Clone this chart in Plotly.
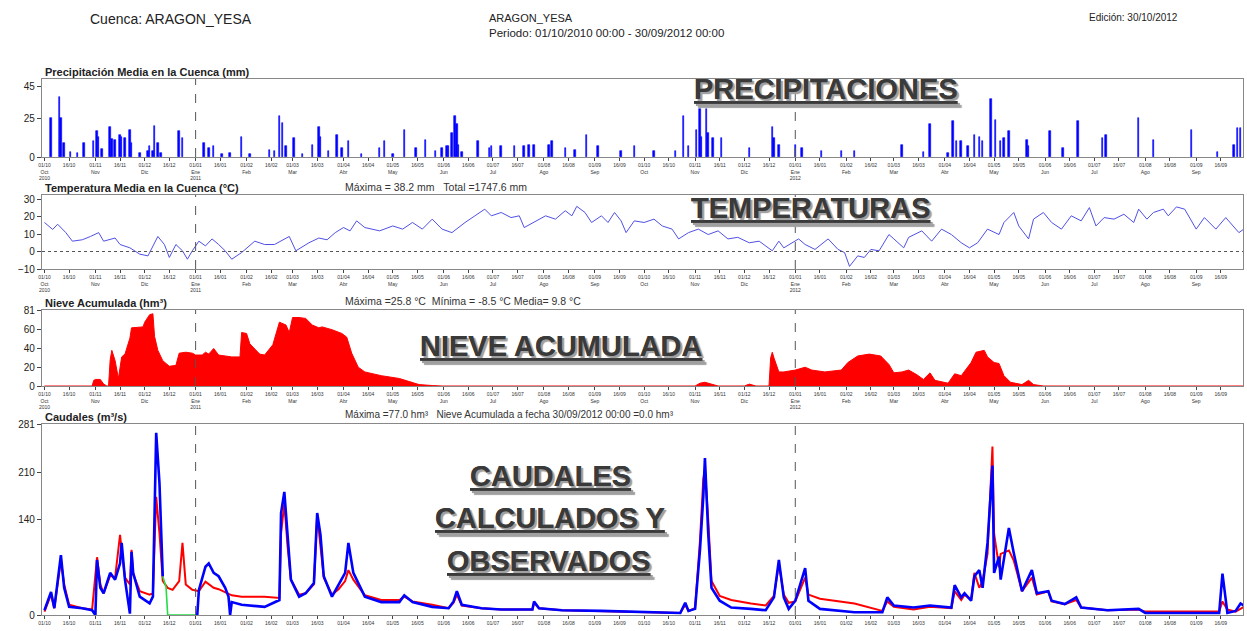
import pandas as pd
import plotly.graph_objects as go

# ---------------- DATA (days since 01/10/2010) ----------------
START = "2010-10-01"

prec_day = [4, 9, 10, 12, 16, 20, 24, 30, 32, 33, 35, 40, 41, 43, 46, 47, 49, 52, 53, 58,
            63, 64, 66, 67, 69, 71, 82, 84, 97, 100, 103, 108, 113, 120, 125, 137, 140, 143, 145, 147,
            152, 157, 163, 167, 168, 173, 178, 181, 185, 193, 204, 207, 212, 219, 226, 232, 238, 242, 245, 246,
            248, 250, 251, 252, 254, 264, 271, 272, 278, 286, 292, 295, 298, 307, 309, 317, 323, 330, 337, 351,
            359, 371, 384, 389, 392, 397, 399, 400, 403, 404, 407, 412, 429, 443, 444, 447, 457, 461, 473, 485,
            493, 522, 535, 539, 550, 553, 555, 558, 562, 566, 569, 571, 576, 579, 582, 584, 587, 598, 599, 612,
            620, 629, 644, 646, 666, 675, 698, 714, 724, 726, 728]
prec_mm = [25, 38.2, 25, 9, 3, 2.5, 9, 10, 16.5, 13, 5, 19, 11.5, 11, 14, 13, 12, 17.5, 9, 2.6,
           3.6, 7, 4, 20, 9, 2.6, 16.5, 12, 9, 5.8, 7.3, 2, 2.5, 13, 2, 4.7, 3.6, 26.5, 21.8, 6.8,
           12, 2, 7.9, 19, 13, 3.6, 14, 5.8, 10, 2, 5.8, 10, 2, 17.5, 5.8, 11, 3.6, 5.8, 6.8, 6.8,
           15.5, 26, 21, 8, 3, 10, 5.8, 6.8, 6.8, 6.8, 6.8, 7.9, 7.9, 7.9, 10, 5.8, 4.7, 14, 6.8, 3.6,
           6.8, 3.6, 3.6, 26, 6.8, 17.5, 30.6, 13, 30.6, 15.5, 12, 12, 5.8, 19, 12, 7.9, 7.9, 5.8, 3.6, 3.6,
           3.6, 7.9, 3, 21, 2.6, 23, 10, 10, 6.8, 14, 13, 10, 37, 24, 10, 12, 16.5, 11, 6.8, 16.5,
           5.8, 23, 12, 14, 25, 11, 17.5, 3, 7.9, 18.5, 18.5]

temp_day = [0, 5, 8, 13, 17, 23, 28, 33, 36, 43, 46, 52, 58, 63, 69, 73, 76, 80, 84, 87,
            90, 94, 98, 102, 106, 110, 114, 120, 128, 134, 140, 149, 153, 161, 167, 172, 177, 182, 186, 190,
            195, 204, 212, 218, 224, 230, 236, 242, 248, 256, 262, 268, 272, 278, 284, 289, 292, 298, 305, 311,
            317, 321, 324, 329, 333, 339, 343, 347, 351, 354, 359, 365, 371, 376, 382, 386, 392, 398, 404, 410,
            416, 422, 429, 435, 443, 447, 450, 459, 463, 469, 477, 483, 487, 490, 495, 499, 503, 508, 514, 517,
            523, 526, 534, 540, 546, 552, 558, 563, 568, 574, 581, 584, 590, 593, 599, 602, 608, 613, 619, 625,
            631, 636, 640, 645, 651, 657, 663, 666, 671, 675, 681, 684, 689, 694, 701, 706, 713, 719, 727, 730]
temp_c = [16.6, 12.6, 15.6, 10.8, 5.9, 6.7, 8.6, 10.8, 5.9, 7.7, 4, 2.1, -1.5, -2.5, 8.6, 4, -3.4, 4, 0.4, -4.4,
          0.4, 5.9, 3.2, 7.2, 4, 0.4, -4.4, -0.6, 5.9, 4, 4, 8.6, 0.4, 5, 7.7, 6.7, 10.8, 13.7, 11.8, 17.5,
          13.7, 11.8, 14.6, 12.8, 16.6, 12.8, 18.5, 12.8, 10.8, 16.6, 20.4, 24.2, 20.4, 22.3, 19.4, 20.4, 13.7, 16.6, 20.4, 18.5,
          23.3, 20.4, 25.8, 22.3, 16.6, 20.4, 16.6, 22.3, 17.5, 10.8, 17.5, 16.6, 18.5, 14.6, 12.8, 7.2, 10.8, 12.8, 9.7, 11.8,
          7.2, 8.1, 5, 5.9, 0.4, 5.9, 2.1, 7.2, 4, 1.2, 7.2, 1.2, -0.6, -8.5, -2.5, -3.4, 1.2, 0.4, 9.7, 7.2,
          2.1, 8.1, 11.8, 5.9, 12.8, 9.7, 5, 2.1, 5, 12.8, 9.7, 16.6, 22.3, 14.6, 7.2, 18.5, 22.3, 16.6, 12.8, 20.4,
          17.5, 25.1, 14.6, 19.4, 18.5, 21.3, 16.6, 24.2, 18.5, 22.3, 24.2, 20.4, 25.5, 24.2, 12.8, 19.4, 12.8, 19.4, 10.8, 12.8]

snow_day = [0, 29, 30, 31, 34, 36, 38, 39, 40, 41, 43, 45, 47, 49, 52, 53, 60, 61, 64, 66,
            67, 69, 72, 76, 80, 82, 86, 90, 92, 96, 98, 100, 103, 106, 114, 119, 120, 123, 125, 131,
            134, 139, 143, 147, 149, 151, 155, 159, 163, 167, 169, 175, 181, 184, 187, 191, 195, 205, 216, 222,
            228, 236, 242, 396, 399, 402, 406, 410, 426, 429, 433, 441, 442, 443, 444, 447, 450, 457, 463, 467,
            475, 485, 489, 495, 502, 509, 514, 517, 522, 526, 531, 535, 539, 542, 550, 554, 558, 564, 567, 572,
            574, 578, 581, 584, 588, 595, 599, 602, 608, 730]
snow_hm3 = [0, 0, 6, 7, 7, 2, 0, 0, 28, 38, 27, 8, 31, 34, 51, 62, 63, 68, 76, 77,
            53, 38, 27, 21, 22, 35, 36, 35, 33, 33, 36, 34, 40, 33, 31, 31, 57, 56, 45, 34,
            33, 44, 68, 65, 57, 73, 73, 72, 65, 62, 63, 60, 56, 52, 35, 20, 15, 11, 8, 4.5,
            1.5, 0.5, 0, 0, 3, 4, 2, 0, 0, 2, 0, 0, 30, 36, 30, 15, 15, 17, 20, 17,
            15, 17, 25, 32, 34, 32, 23, 14, 15, 17, 12, 7, 14, 6, 3, 13, 11, 25, 36, 38,
            31, 25, 24, 11, 4, 1.5, 6, 1.5, 0, 0]

# observed flow (blue), first stretch before the data gap
obs_a_day = [0, 4, 6, 10, 12, 15, 23, 29, 31, 32, 34, 36, 40, 43, 46, 47, 49, 52, 53, 54,
             58, 64, 66, 68, 70, 72]
obs_a_q = [7, 34, 10, 88, 40, 12, 10, 7, 0, 81, 40, 32, 62, 52, 76, 106, 52, 2, 93, 62,
           27, 17, 27, 268, 194, 57]
# observed flow (blue) after the gap
obs_b_day = [93, 94, 98, 100, 103, 106, 110, 112, 113, 114, 120, 134, 143, 144, 146, 148, 150, 155, 159, 164,
             166, 168, 170, 175, 179, 183, 185, 188, 195, 205, 216, 219, 224, 236, 246, 249, 251, 254, 266, 278,
             297, 298, 301, 315, 339, 364, 387, 390, 392, 396, 399, 401, 402, 404, 406, 411, 418, 430, 439, 444,
             447, 450, 453, 457, 463, 465, 472, 493, 510, 513, 517, 529, 539, 552, 554, 558, 560, 564, 566, 569,
             571, 574, 577, 578, 581, 582, 587, 590, 595, 601, 604, 611, 613, 621, 628, 631, 647, 666, 670, 694,
             715, 717, 720, 725, 728, 730]
obs_b_q = [0, 37, 71, 76, 62, 57, 40, 27, 0, 19, 15, 12, 22, 150, 181, 118, 52, 27, 32, 47,
           150, 118, 57, 27, 44, 62, 106, 62, 27, 19, 19, 29, 19, 12, 10, 20, 35, 15, 10, 8,
           8, 20, 10, 7, 6, 4, 3, 18, 6, 9, 96, 174, 231, 120, 40, 21, 11, 9, 7, 26,
           81, 26, 9, 21, 69, 21, 9, 4, 4, 26, 14, 11, 14, 11, 44, 26, 32, 21, 57, 66,
           40, 106, 220, 62, 86, 52, 128, 91, 35, 66, 32, 35, 21, 16, 26, 11, 7, 9, 3, 3,
           3, 61, 3, 6, 17, 14]
# green stretch (gap in observed record)
gap_day = [72, 74, 75, 93]
gap_q = [57, 41, 0, 0]

# calculated flow (red)
calc_day = [0, 4, 6, 10, 12, 15, 23, 29, 32, 34, 36, 40, 43, 46, 47, 49, 52, 53, 54, 58,
            64, 66, 68, 70, 72, 75, 78, 82, 84, 86, 90, 94, 98, 100, 103, 106, 110, 114, 120, 134,
            143, 144, 146, 148, 150, 155, 159, 164, 166, 168, 170, 175, 179, 183, 185, 188, 195, 205, 216, 219,
            224, 236, 246, 249, 251, 254, 266, 278, 297, 298, 301, 315, 339, 364, 387, 390, 392, 396, 399, 401,
            402, 404, 406, 411, 418, 430, 439, 444, 447, 450, 453, 457, 463, 465, 472, 493, 510, 513, 517, 529,
            539, 552, 554, 558, 560, 564, 566, 569, 571, 574, 577, 578, 581, 582, 587, 590, 595, 601, 604, 611,
            613, 621, 628, 631, 647, 666, 670, 694, 715, 717, 720, 725, 728, 730]
calc_q = [5, 30, 10, 80, 45, 15, 10, 8, 85, 45, 32, 58, 55, 118, 95, 55, 45, 96, 60, 35,
          30, 32, 174, 120, 50, 40, 37, 50, 106, 45, 37, 35, 49, 45, 40, 38, 33, 29, 27, 27,
          25, 120, 164, 100, 52, 30, 32, 45, 147, 100, 55, 30, 38, 50, 66, 52, 29, 22, 22, 27,
          20, 15, 10, 18, 30, 14, 10, 8, 8, 18, 10, 7, 6, 4, 3, 15, 6, 10, 110, 200,
          215, 140, 50, 28, 22, 17, 14, 28, 75, 30, 18, 20, 55, 30, 24, 17, 6, 20, 12, 8,
          12, 10, 35, 22, 30, 22, 62, 40, 50, 90, 248, 120, 70, 90, 95, 80, 35, 55, 30, 35,
          20, 16, 22, 11, 7, 8, 5, 5, 5, 20, 8, 5, 10, 12]

year_marks = ["2011-01-01", "2012-01-01"]
meses = ["Ene", "Feb", "Mar", "Abr", "May", "Jun", "Jul", "Ago", "Sep", "Oct", "Nov", "Dic"]

# ---------------- helpers ----------------
start = pd.Timestamp(START)


def to_dates(days):
    return list(start + pd.to_timedelta(days, unit="D"))


FONT = "Liberation Sans, Arial, sans-serif"
W, H = 1247, 631


def fx(p):
    return p / W


def fy(p):
    return 1 - p / H


XDOM = [fx(42), fx(1243)]
PANELS = {1: (79, 157), 2: (195, 269), 3: (310, 386), 4: (424, 615)}
XRANGE = ["2010-09-29 12:00", "2012-09-29 12:00"]

tick_dates = [d for d in pd.date_range("2010-10-01", "2012-09-30") if d.day in (1, 16)]
tick_text = []
tick_text_short = []
for d in tick_dates:
    t = f"{d.day:02d}/{d.month:02d}"
    tick_text_short.append(t)
    if d.day == 1:
        t += "<br>" + meses[d.month - 1]
        if d.month == 1 or (d.year == 2010 and d.month == 10):
            t += "<br>" + str(d.year)
    tick_text.append(t)

fig = go.Figure()

# Precipitation bars
fig.add_trace(go.Bar(x=to_dates(prec_day), y=prec_mm,
                     marker=dict(color="#0000ff", line=dict(width=0.6, color="#0000ff")),
                     xaxis="x", yaxis="y", width=86400000 * 0.9))
# Temperature
fig.add_trace(go.Scatter(x=to_dates(temp_day), y=temp_c, mode="lines",
                         line=dict(color="#5050e6", width=1), xaxis="x2", yaxis="y2"))
# Snow
fig.add_trace(go.Scatter(x=to_dates(snow_day), y=snow_hm3, mode="lines", fill="tozeroy",
                         fillcolor="#ff0000", line=dict(color="#ff0000", width=1), xaxis="x3", yaxis="y3"))
# Flows
fig.add_trace(go.Scatter(x=to_dates(calc_day), y=calc_q, mode="lines",
                         line=dict(color="#ff0000", width=2), xaxis="x4", yaxis="y4"))
fig.add_trace(go.Scatter(x=to_dates(gap_day), y=gap_q, mode="lines",
                         line=dict(color="#22dd44", width=1.6), xaxis="x4", yaxis="y4"))
fig.add_trace(go.Scatter(x=to_dates(obs_a_day), y=obs_a_q, mode="lines",
                         line=dict(color="#0000ff", width=2.6), xaxis="x4", yaxis="y4"))
fig.add_trace(go.Scatter(x=to_dates(obs_b_day), y=obs_b_q, mode="lines",
                         line=dict(color="#0000ff", width=2.6), xaxis="x4", yaxis="y4"))

yspecs = {
    1: dict(range=[0, 50], tickvals=[0, 25, 45]),
    2: dict(range=[-10, 32.3], tickvals=[-10, 0, 10, 20, 30]),
    3: dict(range=[0, 81], tickvals=[0, 20, 40, 60, 81]),
    4: dict(range=[0, 281], tickvals=[0, 140, 210, 281]),
}

layout = dict(width=W, height=H, margin=dict(l=0, r=0, t=0, b=0),
              paper_bgcolor="white", plot_bgcolor="white", showlegend=False, bargap=0,
              font=dict(family=FONT, color="#222"))

for n, (top, bot) in PANELS.items():
    sfx = "" if n == 1 else str(n)
    layout["xaxis" + sfx] = dict(
        type="date", range=XRANGE, domain=XDOM, anchor="y" + sfx,
        tickmode="array", tickvals=tick_dates,
        ticktext=tick_text if n < 4 else tick_text_short, tickangle=0,
        tickfont=dict(size=5, family=FONT, color="#333"),
        ticks="outside", ticklen=3, tickcolor="#444",
        showline=True, linecolor="#888", linewidth=1.2, mirror=True,
        showgrid=False, zeroline=False, automargin=False)
    layout["yaxis" + sfx] = dict(
        domain=[fy(bot), fy(top)], anchor="x" + sfx, tickmode="array",
        tickfont=dict(size=10, family=FONT, color="#222"),
        ticks="outside", ticklen=4, tickcolor="#444",
        showline=True, linecolor="#888", linewidth=1.2, mirror=True,
        showgrid=False, zeroline=False, automargin=False, **yspecs[n])

shapes = []
for n in PANELS:
    sfx = "" if n == 1 else str(n)
    for ym in year_marks:
        shapes.append(dict(type="line", xref="x" + sfx, yref="y" + sfx + " domain",
                           x0=ym, x1=ym, y0=0, y1=1, line=dict(color="#555", width=1, dash="dash")))
shapes.append(dict(type="line", xref="x2 domain", yref="y2", x0=0, x1=1, y0=0, y1=0,
                   line=dict(color="#555", width=1, dash="dot")))
layout["shapes"] = shapes

ann = []


def text(x, y, s, size=10, xanchor="left", yanchor="middle", bold=False, color="#222"):
    ann.append(dict(xref="paper", yref="paper", x=fx(x), y=fy(y), text=s, showarrow=False,
                    xanchor=xanchor, yanchor=yanchor,
                    font=dict(family=FONT, size=size, color=color,
                              weight="bold" if bold else "normal")))


text(88, 19, "Cuenca: ARAGON_YESA", size=14)
text(487, 18, "ARAGON_YESA", size=11)
text(487, 33, "Periodo: 01/10/2010 00:00 - 30/09/2012 00:00", size=11.5)
text(1087, 18, "Edición: 30/10/2012", size=10)

text(43, 80, "Precipitación Media en la Cuenca (mm)", size=11, yanchor="bottom", bold=True)
text(43, 196, "Temperatura Media en la Cuenca (°C)", size=11, yanchor="bottom", bold=True)
text(43, 311, "Nieve Acumulada (hm³)", size=11, yanchor="bottom", bold=True)
text(43, 425, "Caudales (m³/s)", size=11, yanchor="bottom", bold=True)

text(343, 187, "Máxima = 38.2 mm&nbsp;&nbsp;&nbsp;Total =1747.6 mm", size=10.5, color="#333")
text(343, 301, "Máxima =25.8 °C&nbsp;&nbsp;Mínima = -8.5 °C Media= 9.8 °C", size=10.5, color="#333")
text(343, 414, "Máxima =77.0 hm³&nbsp;&nbsp;&nbsp;Nieve Acumulada a fecha 30/09/2012 00:00 =0.0 hm³",
     size=10, color="#333")


def big(x, y, s):
    ann.append(dict(xref="paper", yref="paper", x=fx(x), y=fy(y), text=s, showarrow=False,
                    xanchor="center", yanchor="middle",
                    font=dict(family=FONT, size=29, color="#3a3a3a", weight="bold",
                              lineposition="under", shadow="2px 2px 1px #a0a0a0")))


big(826, 89, "PRECIPITACIONES")
big(811, 208, "TEMPERATURAS")
big(561, 346, "NIEVE ACUMULADA")
big(550, 476, "CAUDALES")
big(550, 518, "CALCULADOS Y")
big(549, 561, "OBSERVADOS")

layout["annotations"] = ann
fig.update_layout(**layout)
fig.write_html("out.html", config={"displayModeBar": False},
               post_script="document.body.style.margin='0';document.body.style.overflow='hidden';")
